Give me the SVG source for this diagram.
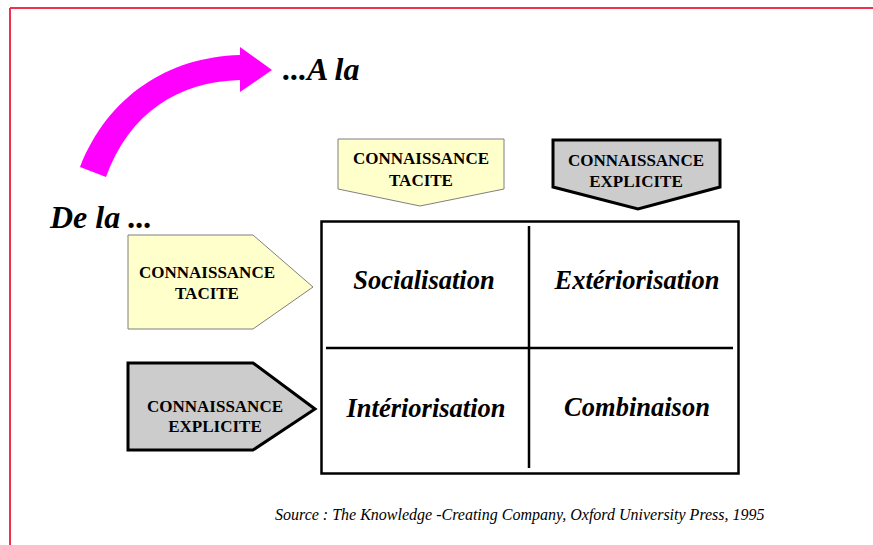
<svg xmlns="http://www.w3.org/2000/svg" width="873" height="545" viewBox="0 0 873 545">
<style>
.tt{font-family:"Liberation Serif","Times New Roman",serif;font-weight:bold;font-style:italic;fill:#000}
.box{font-family:"Liberation Serif","Times New Roman",serif;font-weight:bold;font-size:17px;fill:#000;text-anchor:middle}
.yel{fill:#FFFFCC;stroke:#7f7f7f;stroke-width:1}
.gry{fill:#CCCCCC;stroke:#000;stroke-width:3}
.cell{font-family:"Liberation Serif","Times New Roman",serif;font-weight:bold;font-style:italic;font-size:26.5px;fill:#000;text-anchor:middle}
.ln{stroke:#000;stroke-width:2.5}
</style>
<rect width="873" height="545" fill="#fff"/>
<g id="frame" fill="none" stroke="#F0304F" stroke-width="2">
<line x1="10" y1="8" x2="873" y2="8"/>
<line x1="10" y1="8" x2="10" y2="545"/>
</g>
<g id="curved-arrow">
<path d="M80,167 C108,96 168,57 240,55 L240,47 L272,70 L240,92 L240,80 C178,82 130,112 106,177 Z" fill="#FF00FF"/>
</g>
<g id="label-a-la"><text class="tt" x="283" y="80" font-size="32">...A la</text></g>
<g id="label-de-la"><text class="tt" x="50" y="228" font-size="32">De la ...</text></g>
<g id="top-tacite">
<path class="yel" d="M338,139 L504,139 L504,189 L420,206 L338,189 Z"/>
<text class="box" x="421" y="164">CONNAISSANCE</text>
<text class="box" x="421" y="186">TACITE</text>
</g>
<g id="top-explicite">
<path class="gry" d="M553,140 L720,140 L720,187 L638,209 L553,187 Z"/>
<text class="box" x="636" y="166">CONNAISSANCE</text>
<text class="box" x="636" y="187">EXPLICITE</text>
</g>
<g id="left-tacite">
<path class="yel" d="M128,235 L253,235 L313,287 L253,329 L128,329 Z"/>
<text class="box" x="207" y="278">CONNAISSANCE</text>
<text class="box" x="207" y="299">TACITE</text>
</g>
<g id="left-explicite">
<path class="gry" d="M128,363 L253,363 L315,409 L253,450 L128,450 Z"/>
<text class="box" x="215" y="412">CONNAISSANCE</text>
<text class="box" x="215" y="432">EXPLICITE</text>
</g>
<g id="matrix">
<rect x="321.5" y="221.5" width="417" height="252" fill="none" stroke="#000" stroke-width="2.5"/>
<line class="ln" x1="529" y1="226" x2="529" y2="468"/>
<line class="ln" x1="326" y1="348" x2="733" y2="348"/>
</g>
<g id="cell-socialisation"><text class="cell" x="424" y="289">Socialisation</text></g>
<g id="cell-exteriorisation"><text class="cell" x="637" y="289">Extériorisation</text></g>
<g id="cell-interiorisation"><text class="cell" x="426" y="417">Intériorisation</text></g>
<g id="cell-combinaison"><text class="cell" x="637" y="416">Combinaison</text></g>
<g id="source"><text x="275" y="520" font-family="Liberation Serif,'Times New Roman',serif" font-style="italic" font-size="16">Source : The Knowledge -Creating Company, Oxford University Press, 1995</text></g>
<g id="connectors"></g>
</svg>
